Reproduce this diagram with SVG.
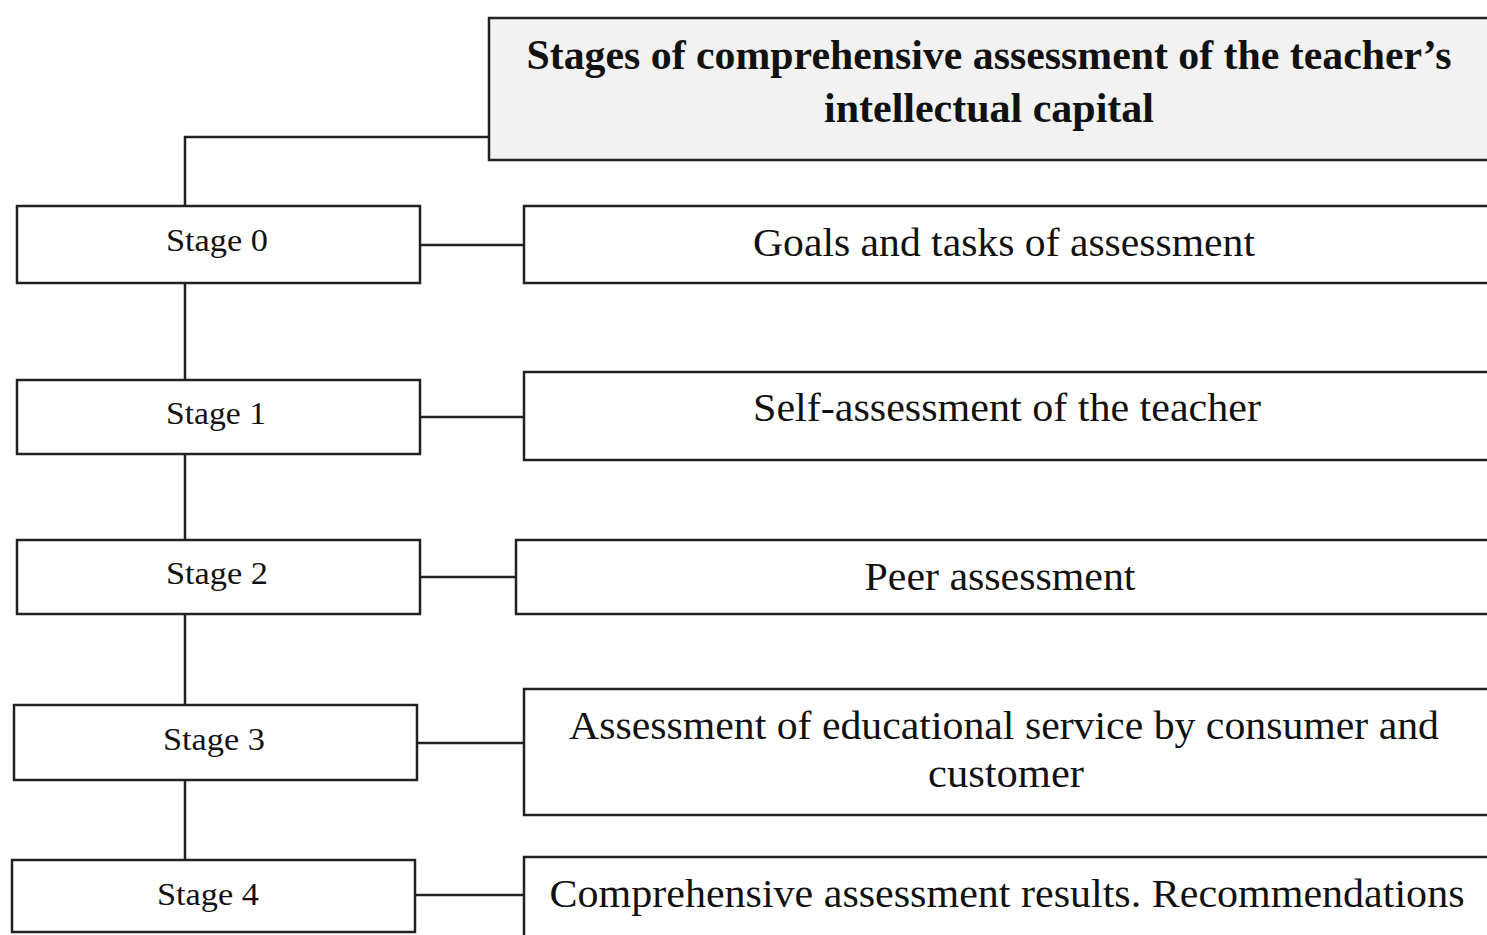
<svg xmlns="http://www.w3.org/2000/svg" width="1487" height="935" viewBox="0 0 1487 935">
<style>
rect{fill:#fff;stroke:#222;stroke-width:2.5}
.title rect{fill:#f2f2f2}
text{font-family:"Liberation Serif","Times New Roman",serif;fill:#111;text-anchor:middle}
.t{font-size:42px;font-weight:bold}
.s{font-size:31px}
.d{font-size:39px}
#connectors path{fill:none;stroke:#222;stroke-width:2.5}
</style>
<rect x="0" y="0" width="1487" height="935" style="fill:#fff;stroke:none"/>
<g id="connectors">
<path d="M489 137H185V860"/>
<path d="M420 245H524"/>
<path d="M420 417H524"/>
<path d="M420 577H516"/>
<path d="M417 743H524"/>
<path d="M415 895H524"/>
</g>
<g id="title" class="title">
<rect x="489" y="18" width="1010" height="142"/>
<text class="t" x="989" y="69" textLength="925" lengthAdjust="spacingAndGlyphs">Stages of comprehensive assessment of the teacher’s</text>
<text class="t" x="989" y="122" textLength="330" lengthAdjust="spacingAndGlyphs">intellectual capital</text>
</g>
<g id="stage0"><rect x="17" y="206" width="403" height="77"/><text class="s" x="217" y="251" textLength="102" lengthAdjust="spacingAndGlyphs">Stage 0</text></g>
<g id="stage1"><rect x="17" y="380" width="403" height="74"/><text class="s" x="216" y="424" textLength="100" lengthAdjust="spacingAndGlyphs">Stage 1</text></g>
<g id="stage2"><rect x="17" y="540" width="403" height="74"/><text class="s" x="217" y="584" textLength="102" lengthAdjust="spacingAndGlyphs">Stage 2</text></g>
<g id="stage3"><rect x="14" y="705" width="403" height="75"/><text class="s" x="214" y="750" textLength="102" lengthAdjust="spacingAndGlyphs">Stage 3</text></g>
<g id="stage4"><rect x="12" y="860" width="403" height="72"/><text class="s" x="208" y="905" textLength="102" lengthAdjust="spacingAndGlyphs">Stage 4</text></g>
<g id="goals"><rect x="524" y="206" width="980" height="77"/><text class="d" x="1004" y="256" textLength="502" lengthAdjust="spacingAndGlyphs">Goals and tasks of assessment</text></g>
<g id="self"><rect x="524" y="372" width="980" height="88"/><text class="d" x="1007" y="421" textLength="508" lengthAdjust="spacingAndGlyphs">Self-assessment of the teacher</text></g>
<g id="peer"><rect x="516" y="540" width="988" height="74"/><text class="d" x="1000" y="590" textLength="271" lengthAdjust="spacingAndGlyphs">Peer assessment</text></g>
<g id="consumer"><rect x="524" y="689" width="980" height="126"/><text class="d" x="1004" y="739" textLength="870" lengthAdjust="spacingAndGlyphs">Assessment of educational service by consumer and</text><text class="d" x="1006" y="787" textLength="156" lengthAdjust="spacingAndGlyphs">customer</text></g>
<g id="results"><rect x="524" y="857" width="980" height="100"/><text class="d" x="1007" y="907" textLength="915" lengthAdjust="spacingAndGlyphs">Comprehensive assessment results. Recommendations</text></g>
</svg>
